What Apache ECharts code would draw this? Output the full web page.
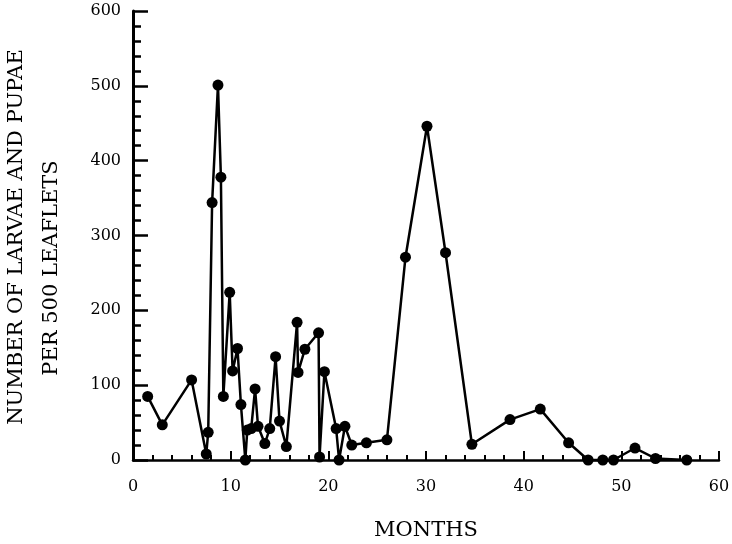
<!DOCTYPE html>
<html><head><meta charset="utf-8">
<script src="https://cdn.jsdelivr.net/npm/echarts@6/dist/echarts.min.js"></script>
<style>html,body{margin:0;padding:0;background:#fff}#c{width:732px;height:544px}</style>
</head><body><div id="c"></div>
<script>
const months = [1.5, 3, 6, 7.5, 7.7, 8.1, 8.7, 9.0, 9.25, 9.9, 10.2, 10.7, 11.05, 11.5, 11.7, 12.1, 12.5, 12.8, 13.5, 14.0, 14.6, 15.0, 15.7, 16.8, 16.9, 17.6, 19.0, 19.1, 19.6, 20.8, 21.1, 21.7, 22.4, 23.9, 26.0, 27.9, 30.1, 32.0, 34.7, 38.6, 41.7, 44.6, 46.6, 48.1, 49.2, 51.4, 53.5, 56.7];
const counts = [85, 47, 107, 8, 37, 344, 501, 378, 85, 224, 119, 149, 74, 0, 40, 42, 95, 45, 22, 42, 138, 52, 18, 184, 117, 148, 170, 4, 118, 42, 0, 45, 20, 23, 27, 271, 446, 277, 21, 54, 68, 23, 0, 0, 0, 16, 2, 0];
const xTickValues = [0, 10, 20, 30, 40, 50, 60];
const yTickValues = [0, 100, 200, 300, 400, 500, 600];
const xTitle = 'MONTHS';
const yTitleLine1 = 'NUMBER OF LARVAE AND PUPAE';
const yTitleLine2 = 'PER 500 LEAFLETS';

const FONT = 'DejaVu Serif';
const chart = echarts.init(document.getElementById('c'), null, {renderer: 'canvas'});
chart.setOption({
  animation: false,
  backgroundColor: '#fff',
  grid: {left: 133, right: 13, top: 11, bottom: 84, containLabel: false, outerBoundsMode: 'none'},
  xAxis: {
    type: 'value', min: xTickValues[0], max: xTickValues[xTickValues.length - 1], interval: 10,
    axisLine: {show: true, onZero: false, lineStyle: {color: '#000', width: 2.5}},
    axisTick: {show: true, inside: true, length: 9, lineStyle: {color: '#000', width: 2}},
    minorTick: {show: true, splitNumber: 5, length: 5, lineStyle: {color: '#000', width: 2}},
    splitLine: {show: false},
    axisLabel: {color: '#000', fontFamily: FONT, fontSize: 16, margin: 19},
    name: xTitle, nameLocation: 'middle', nameGap: 60,
    nameTextStyle: {color: '#000', fontFamily: FONT, fontSize: 21}
  },
  yAxis: {
    type: 'value', min: yTickValues[0], max: yTickValues[yTickValues.length - 1], interval: 100,
    axisLine: {show: true, onZero: false, lineStyle: {color: '#000', width: 3}},
    axisTick: {show: true, inside: true, length: 15, lineStyle: {color: '#000', width: 2.5}},
    minorTick: {show: true, splitNumber: 5, length: 8, lineStyle: {color: '#000', width: 2.5}},
    splitLine: {show: false},
    axisLabel: {color: '#000', fontFamily: FONT, fontSize: 16, margin: 12}
  },
  graphic: [
    {type: 'text', x: 17, y: 237, rotation: Math.PI / 2,
     style: {text: yTitleLine1, fill: '#000', font: '21px "DejaVu Serif"', textAlign: 'center', textVerticalAlign: 'middle'}},
    {type: 'text', x: 52, y: 268, rotation: Math.PI / 2,
     style: {text: yTitleLine2, fill: '#000', font: '21px "DejaVu Serif"', textAlign: 'center', textVerticalAlign: 'middle'}}
  ],
  series: [{
    type: 'line',
    data: months.map((m, i) => [m, counts[i]]),
    symbol: 'circle', symbolSize: 11, clip: false,
    lineStyle: {color: '#000', width: 2.5},
    itemStyle: {color: '#000'}
  }]
});
</script></body></html>
